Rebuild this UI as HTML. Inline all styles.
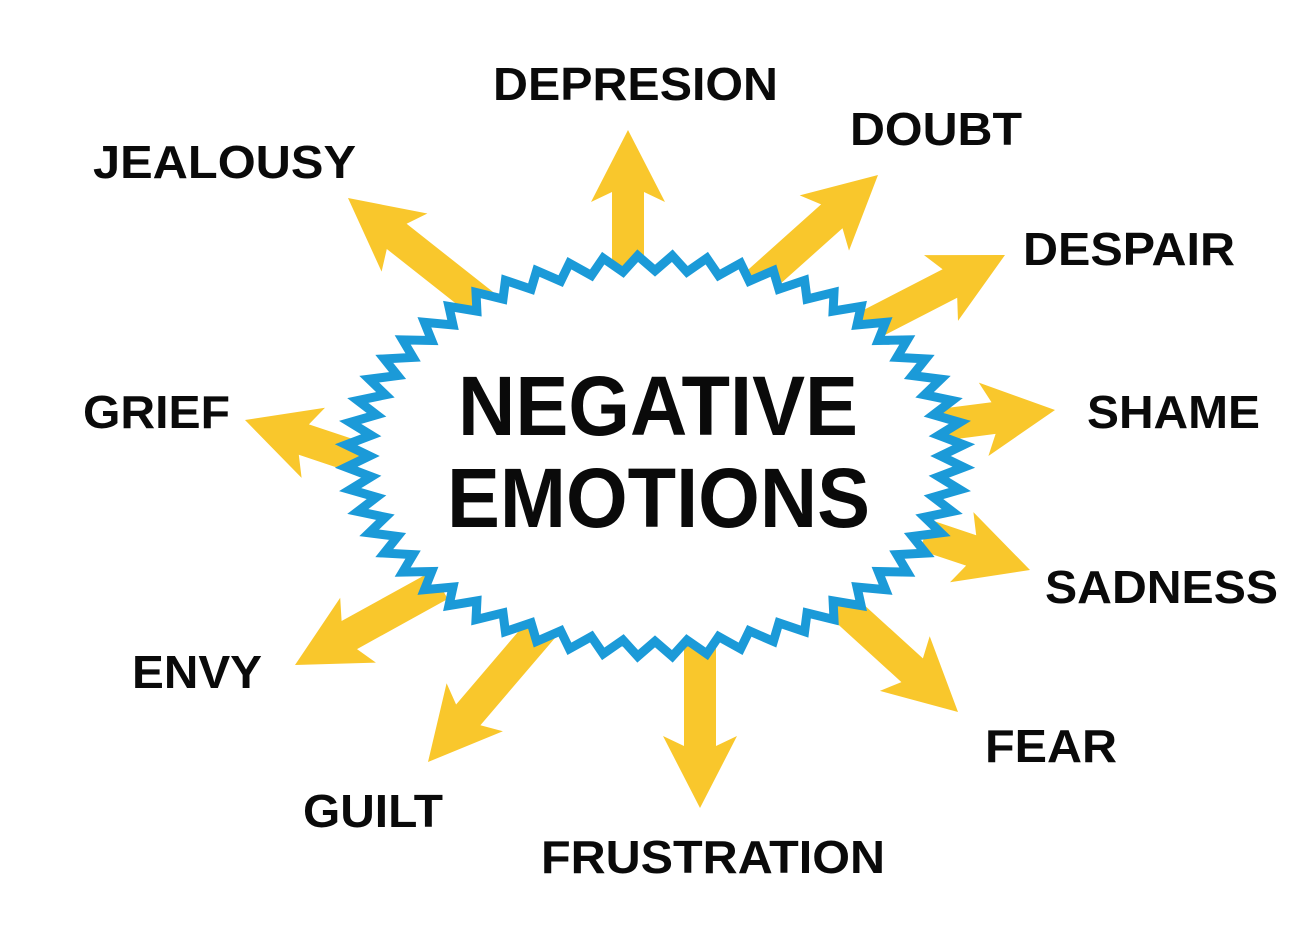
<!DOCTYPE html>
<html><head><meta charset="utf-8"><style>
html,body{margin:0;padding:0;background:#fff;}
svg{display:block;}
text{font-family:"Liberation Sans",Arial,sans-serif;font-weight:bold;fill:#0a0a0a;}
</style></head><body>
<svg id="s" width="1300" height="929" viewBox="0 0 1300 929" xmlns="http://www.w3.org/2000/svg">
<g id="arrows" fill="#f9c72c"></g>
<polygon id="zz" fill="#fff" stroke="#1b9ad8" stroke-width="9" stroke-linejoin="miter"/>
<text x="458" y="435" font-size="84" textLength="400" lengthAdjust="spacingAndGlyphs">NEGATIVE</text>
<text x="447" y="527" font-size="84" textLength="423" lengthAdjust="spacingAndGlyphs">EMOTIONS</text>
<g font-size="46">
<text x="493" y="100" textLength="285" lengthAdjust="spacingAndGlyphs">DEPRESION</text>
<text x="850" y="145" textLength="172" lengthAdjust="spacingAndGlyphs">DOUBT</text>
<text x="93" y="178" textLength="263" lengthAdjust="spacingAndGlyphs">JEALOUSY</text>
<text x="1023" y="265" textLength="212" lengthAdjust="spacingAndGlyphs">DESPAIR</text>
<text x="1087" y="428" textLength="173" lengthAdjust="spacingAndGlyphs">SHAME</text>
<text x="83" y="428" textLength="147" lengthAdjust="spacingAndGlyphs">GRIEF</text>
<text x="1045" y="603" textLength="233" lengthAdjust="spacingAndGlyphs">SADNESS</text>
<text x="132" y="688" textLength="130" lengthAdjust="spacingAndGlyphs">ENVY</text>
<text x="985" y="762" textLength="132" lengthAdjust="spacingAndGlyphs">FEAR</text>
<text x="303" y="827" textLength="140" lengthAdjust="spacingAndGlyphs">GUILT</text>
<text x="541" y="873" textLength="344" lengthAdjust="spacingAndGlyphs">FRUSTRATION</text>
</g>
</svg>
<script>
var A=[[628,275,628,130],[755,285,878,175],[850,335,1005,255],[940,425,1055,410],[925,535,1030,570],[835,600,958,712],[700,640,700,808],[545,625,428,762],[440,585,295,665],[365,460,245,420],[490,310,348,198]];
var g=document.getElementById('arrows'),ns="http://www.w3.org/2000/svg";
A.forEach(function(a){
 var dx=a[2]-a[0],dy=a[3]-a[1],L=Math.hypot(dx,dy),ux=dx/L,uy=dy/L,px=-uy,py=ux;
 var sw=16,hw=37,hl=62;
 var bx=a[2]-ux*hl,by=a[3]-uy*hl;
 var pts=[[a[0]+px*sw,a[1]+py*sw],[bx+px*sw,by+py*sw],[bx+px*hw-ux*10,by+py*hw-uy*10],[a[2],a[3]],[bx-px*hw-ux*10,by-py*hw-uy*10],[bx-px*sw,by-py*sw],[a[0]-px*sw,a[1]-py*sw]];
 var p=document.createElementNS(ns,'polygon');
 p.setAttribute('points',pts.map(function(q){return q[0].toFixed(1)+','+q[1].toFixed(1)}).join(' '));
 g.appendChild(p);
});
var cx=655,cy=456,rx=296,ry=192,N=112,pts=[];
for(var i=0;i<N;i++){var t=i/N*2*Math.PI,r=(i%2)?1.045:0.965;pts.push((cx+rx*r*Math.cos(t)).toFixed(1)+','+(cy+ry*r*Math.sin(t)).toFixed(1));}
document.getElementById('zz').setAttribute('points',pts.join(' '));
</script>
</body></html>
